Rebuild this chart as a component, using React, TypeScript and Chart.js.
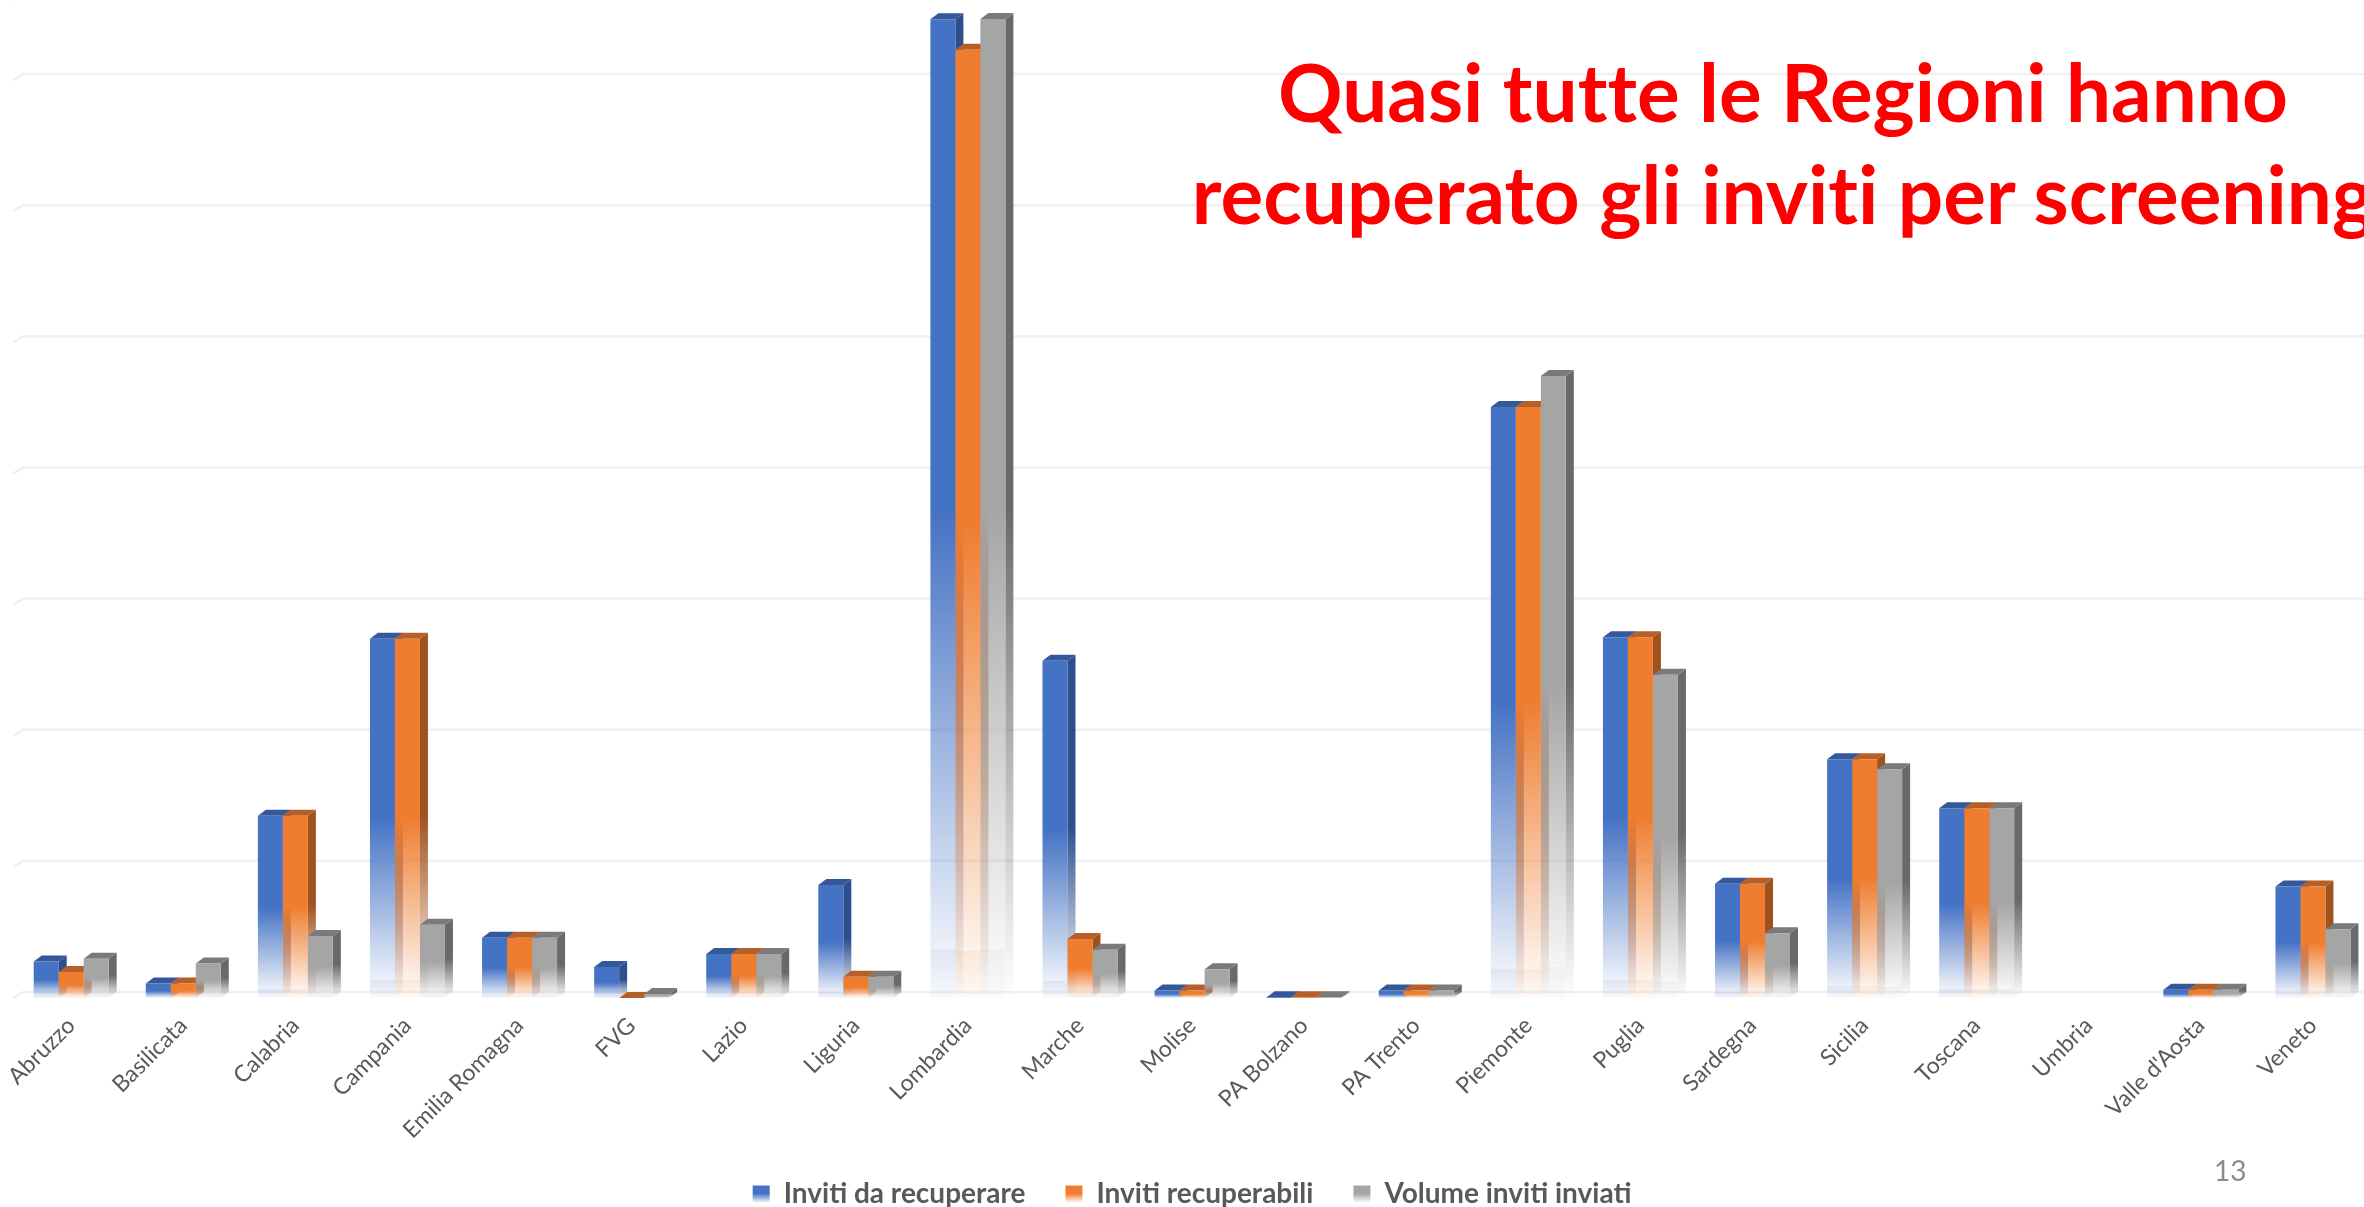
import React, { useEffect, useRef } from "react";
import { Chart, registerables } from "chart.js";

Chart.register(...registerables);

const categories = ["Abruzzo","Basilicata","Calabria","Campania","Emilia Romagna","FVG","Lazio","Liguria","Lombardia","Marche","Molise","PA Bolzano","PA Trento","Piemonte","Puglia","Sardegna","Sicilia","Toscana","Umbria","Valle d'Aosta","Veneto"];
const invitiDaRecuperare = [13.9,5.5,69.5,137,23,11.8,16.8,43.1,373.2,128.6,2.9,0.3,2.9,225.3,137.5,43.6,91,72.3,null,3.1,42.5];
const invitiRecuperabili = [9.9,5.5,69.5,137,23,0,16.8,8.1,361.5,22.5,2.9,0.3,2.9,225.3,137.5,43.6,91,72.3,null,3.1,42.5];
const volumeInvitiInviati = [15,13.2,23.6,27.9,23,1.5,16.8,8.1,373.3,18.4,11,0.3,2.9,237.1,123.2,24.7,87.2,72.3,null,3.1,26.2];
const seriesNames = ["Inviti da recuperare","Inviti recuperabili","Volume inviti inviati"];
const frontColors = [[68,114,196],[239,125,48],[165,165,165]];
const topColors = [[53,88,155],[181,96,40],[122,122,122]];
const sideColors = [[45,79,141],[160,82,30],[105,105,105]];
const titleLines = ["Quasi tutte le Regioni hanno","recuperato gli inviti per screening"];
const pageNumber = "13";

const DX = 8, DY = 6;
const rgba = (c: number[], a: number) => `rgba(${c[0]},${c[1]},${c[2]},${a})`;

function faceGradient(ctx: CanvasRenderingContext2D, top: number, bottom: number, c: number[], step: boolean) {
  const g = ctx.createLinearGradient(0, top, 0, bottom);
  g.addColorStop(0, rgba(c, 1));
  g.addColorStop(0.5, rgba(c, 1));
  if (step) {
    g.addColorStop(0.95, rgba(c, 0.1));
    g.addColorStop(0.951, rgba(c, 0.18));
    g.addColorStop(1, rgba(c, 0.04));
  } else {
    g.addColorStop(1, rgba(c, 0));
  }
  return g;
}

const depthPlugin = {
  id: "depth",
  afterLayout(chart: any) {
    // the legend overlaps the axis box: let long rotated labels run past it
    chart.scales.x.bottom = chart.height;
  },
  beforeDatasetsDraw(chart: any) {
    const { ctx, chartArea, scales } = chart;
    const y = scales.y;
    ctx.save();
    ctx.strokeStyle = "#f0f0f0";
    ctx.lineWidth = 2.5;
    for (const t of y.ticks) {
      const py = y.getPixelForValue(t.value);
      ctx.beginPath();
      ctx.moveTo(chartArea.left - 2, py);
      ctx.lineTo(chartArea.left + DX, py - DY);
      ctx.lineTo(chartArea.right + 40, py - DY);
      ctx.stroke();
    }
    const y0 = y.getPixelForValue(0);
    const metas = chart.getSortedVisibleDatasetMetas();
    const n = categories.length;
    for (let i = 0; i < n; i++) {
      metas.forEach((m: any, di: number) => {
        const el = m.data[i];
        if (!el || el.skip || chart.data.datasets[di].data[i] == null) return;
        const { x, y: top, width } = el.getProps(["x", "y", "width"], true);
        const l = x - width / 2, r = x + width / 2;
        ctx.fillStyle = faceGradient(ctx, top - DY, y0, sideColors[di], false);
        ctx.beginPath();
        ctx.moveTo(r, top);
        ctx.lineTo(r + DX, top - DY);
        ctx.lineTo(r + DX, y0 - DY);
        ctx.lineTo(r, y0);
        ctx.closePath();
        ctx.fill();
        ctx.fillStyle = rgba(topColors[di], 1);
        ctx.beginPath();
        ctx.moveTo(l, top);
        ctx.lineTo(l + DX, top - DY);
        ctx.lineTo(r + DX, top - DY);
        ctx.lineTo(r, top);
        ctx.closePath();
        ctx.fill();
      });
    }
    ctx.restore();
  },
};

export default function App() {
  const ref = useRef<HTMLCanvasElement>(null);
  useEffect(() => {
    const canvas = ref.current!;
    const series = [invitiDaRecuperare, invitiRecuperabili, volumeInvitiInviati];
    const chart = new Chart(canvas, {
      type: "bar",
      data: {
        labels: categories,
        datasets: series.map((data, di) => ({
          label: seriesNames[di],
          data,
          categoryPercentage: 0.669,
          barPercentage: 1,
          borderWidth: 0,
          backgroundColor: (c: any) => {
            const el = c.chart;
            if (c.type !== "data" || !el.chartArea) return rgba(frontColors[di], 1);
            const v = c.raw;
            const y = el.scales.y;
            return faceGradient(el.ctx, y.getPixelForValue(v ?? 0), y.getPixelForValue(0), frontColors[di], true);
          },
        })),
      },
      options: {
        responsive: false,
        animation: false,
        layout: { autoPadding: false, padding: { left: 15.15, right: 43, top: 0, bottom: -11 } },
        plugins: {
          tooltip: { enabled: false },
          title: { display: false },
          legend: {
            position: "bottom",
            labels: {
              boxWidth: 17,
              boxHeight: 17,
              padding: 40,
              color: "#595959",
              font: { family: "Lato", weight: "bold", size: 28 },
              generateLabels: (ch: any) => {
                const h = ch.height;
                return seriesNames.map((text, di) => {
                  const g = ch.ctx.createLinearGradient(0, h - 22, 0, h - 5);
                  g.addColorStop(0, rgba(frontColors[di], 1));
                  g.addColorStop(0.5, rgba(frontColors[di], 1));
                  g.addColorStop(1, rgba(frontColors[di], 0.1));
                  return { text, fillStyle: g, strokeStyle: "rgba(0,0,0,0)", lineWidth: 0, fontColor: "#595959", datasetIndex: di, hidden: false };
                });
              },
            },
          },
        },
        scales: {
          x: {
            grid: { display: false },
            border: { display: false },
            ticks: {
              color: "#595959",
              font: { family: "Lato", size: 23 },
              minRotation: 45,
              maxRotation: 45,
              autoSkip: false,
              padding: 6,
            },
            afterFit: (s: any) => { s.height = 142; },
          },
          y: {
            display: false,
            min: 0,
            max: 380.5,
            ticks: { stepSize: 50 },
          },
        },
      },
      plugins: [depthPlugin],
    } as any);
    return () => chart.destroy();
  }, []);

  return (
    <div style={{ position: "absolute", left: 0, top: 0, width: 2364, height: 1207, overflow: "hidden", background: "#fff" }}>
      <canvas ref={ref} width={2412} height={1207} style={{ display: "block", width: 2412, height: 1207 }} />
      <div style={{ position: "absolute", left: 1183, width: 1200, top: 40, textAlign: "center", whiteSpace: "nowrap", fontFamily: "Lato", fontWeight: 700, fontSize: 80, lineHeight: "102px", fontVariantLigatures: "none", color: "#ff0000" }}>
        {titleLines.map((t) => <div key={t}>{t}</div>)}
      </div>
      <div style={{ position: "absolute", left: 2214, top: 1153, fontFamily: "Lato", fontSize: 28, color: "#8b8b8b" }}>{pageNumber}</div>
    </div>
  );
}
